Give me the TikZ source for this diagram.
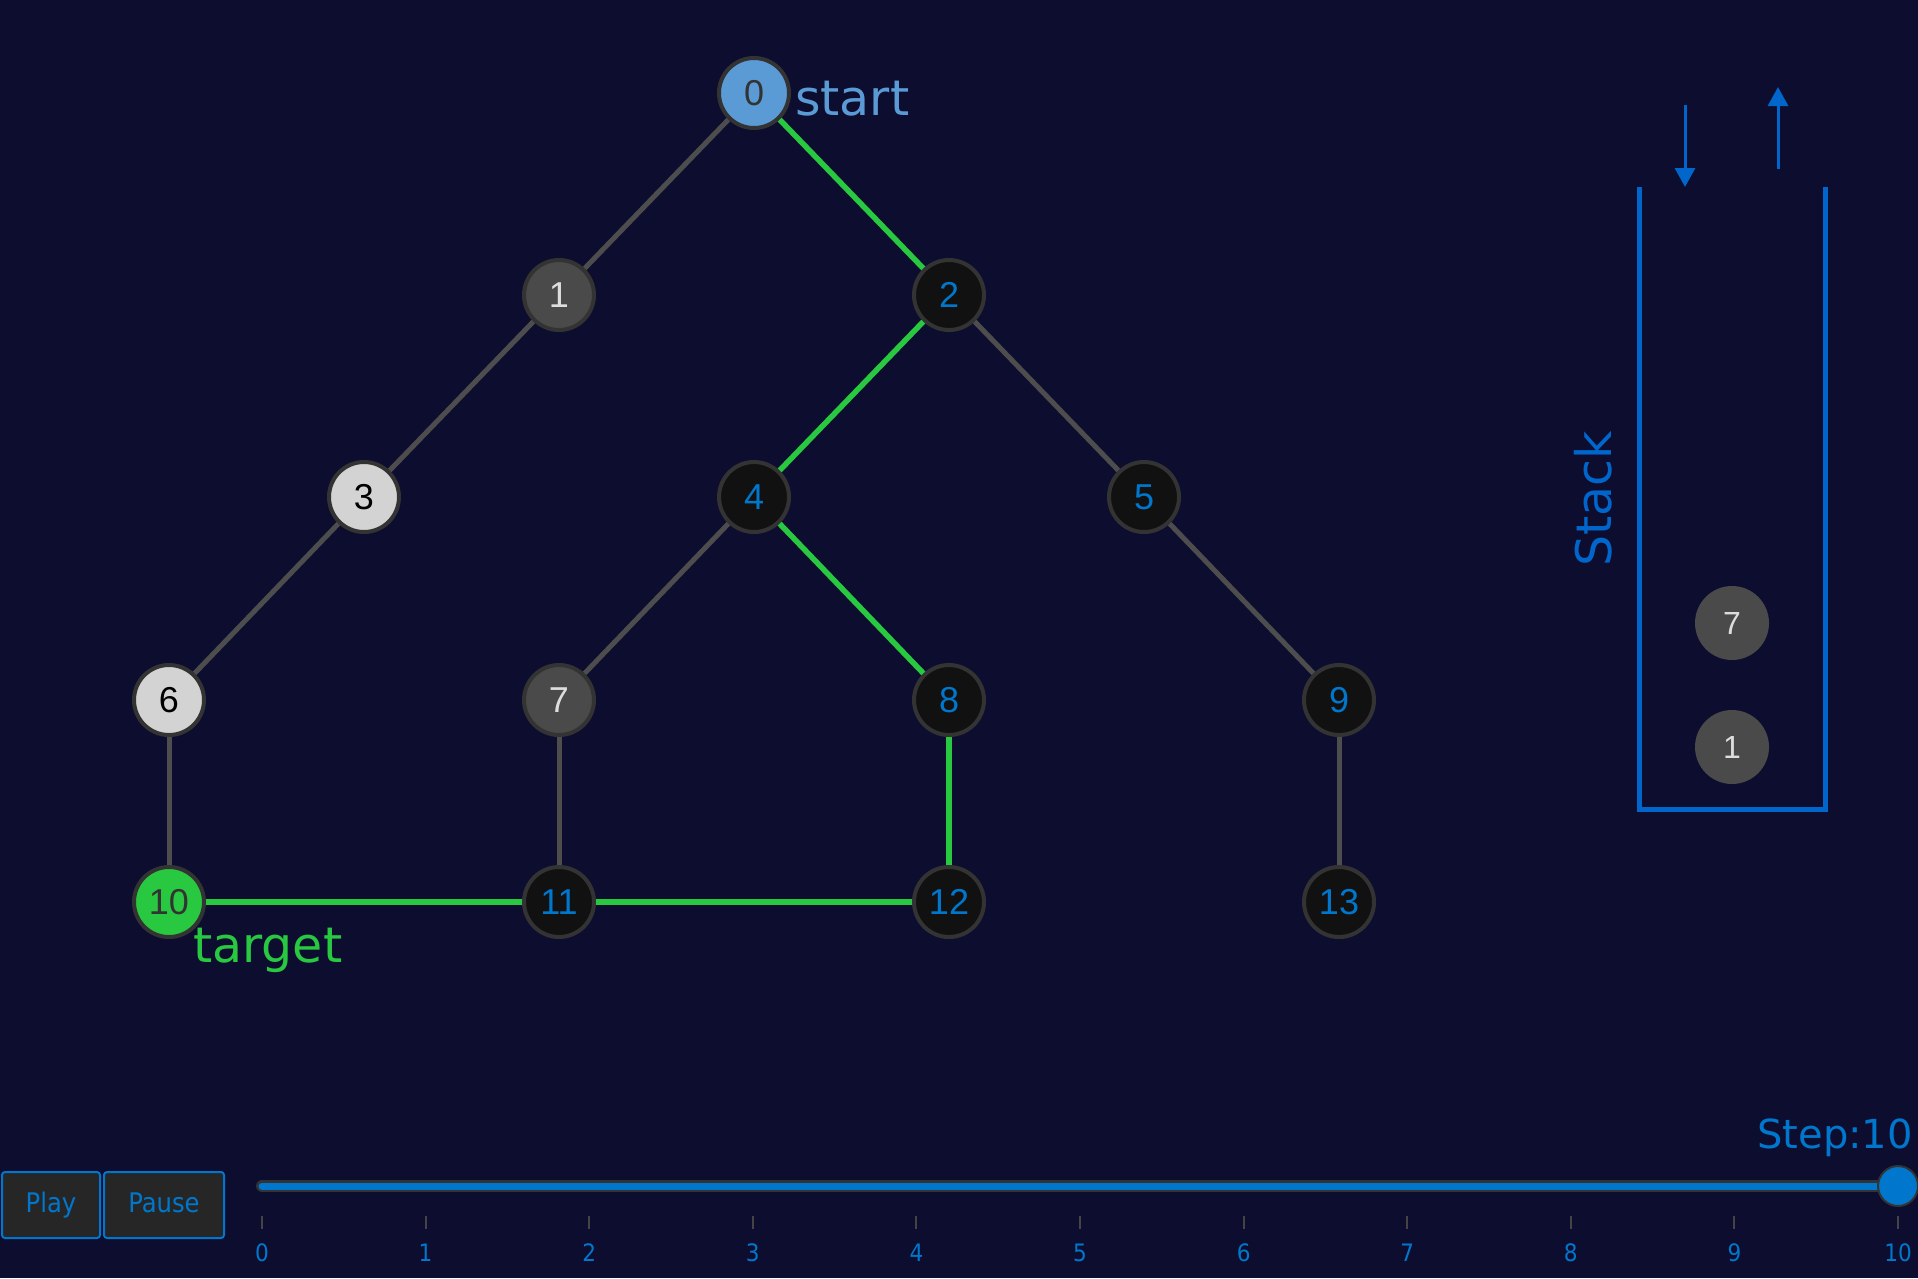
\documentclass[tikz,border=0pt]{standalone}
\usepackage{fontspec}
\setmainfont{DejaVu Sans}
\newfontfamily\arialf{Liberation Sans}
\newfontfamily\condf{DejaVu Sans Condensed}
\usetikzlibrary{arrows.meta}
\definecolor{bg}{HTML}{0D0D2F}
\definecolor{nstroke}{HTML}{333333}
\definecolor{darkfill}{HTML}{111111}
\definecolor{bluetxt}{HTML}{0077CC}
\definecolor{grayfill}{HTML}{4A4A4A}
\definecolor{lightfill}{HTML}{D3D3D3}
\definecolor{lightgray}{HTML}{DDDDDD}
\definecolor{grn}{HTML}{28C840}
\definecolor{startblue}{HTML}{5B9BD5}
\definecolor{stackblue}{HTML}{0066CC}
\definecolor{btnfill}{HTML}{262626}
\definecolor{edgegray}{HTML}{4D4D4D}
\definecolor{tickgray}{HTML}{444444}
\tikzset{
  vtx/.style={circle, draw=nstroke, line width=4pt, minimum size=70pt, inner sep=0pt,
    font=\arialf\fontsize{36}{42}\selectfont},
  vdark/.style={vtx, fill=darkfill, text=bluetxt},
  vgray/.style={vtx, fill=grayfill, text=lightgray},
  vlight/.style={vtx, fill=lightfill, text=black},
  vstart/.style={vtx, fill=startblue, text=nstroke},
  vgoal/.style={vtx, fill=grn, text=nstroke},
  gedge/.style={draw=edgegray, line width=5pt},
  pedge/.style={draw=grn, line width=5.5pt},
  stackitem/.style={circle, fill=grayfill, minimum size=74pt, inner sep=0pt, text=lightgray,
    font=\arialf\fontsize{32}{38}\selectfont},
  bigtxt/.style={inner sep=0pt, font=\fontsize{49}{58}\selectfont},
  btn/.style={draw=bluetxt, fill=btnfill, line width=2pt, rounded corners=3pt, inner sep=0pt,
    minimum height=66pt, text height=19pt, text depth=5pt, text=bluetxt, font=\condf\fontsize{27}{32}\selectfont},
  ticklbl/.style={inner sep=0pt, text=bluetxt, font=\condf\fontsize{24}{28}\selectfont},
  tickmark/.style={draw=tickgray, line width=2pt},
  wall/.style={draw=stackblue, line width=5pt, miter limit=10},
  sarrow/.style={draw=stackblue, line width=3pt, -{Triangle[width=20pt,length=19pt]}},
}
\begin{document}
\begin{tikzpicture}[x=1pt,y=-1pt]
\fill[bg] (0,0) rectangle (1918,1278);
\useasboundingbox (0,0) rectangle (1918,1278);

% vertices
\node[vstart] (n0) at (754,93) {0};
\node[vgray]  (n1) at (559,295) {1};
\node[vdark]  (n2) at (949,295) {2};
\node[vlight] (n3) at (364,497) {3};
\node[vdark]  (n4) at (754,497) {4};
\node[vdark]  (n5) at (1144,497) {5};
\node[vlight] (n6) at (169,700) {6};
\node[vgray]  (n7) at (559,700) {7};
\node[vdark]  (n8) at (949,700) {8};
\node[vdark]  (n9) at (1339,700) {9};
\node[vgoal]  (n10) at (169,902) {10};
\node[vdark]  (n11) at (559,902) {11};
\node[vdark]  (n12) at (949,902) {12};
\node[vdark]  (n13) at (1339,902) {13};

% edges
\path[gedge] (n0) -- (n1);
\path[gedge] (n1) -- (n3);
\path[gedge] (n3) -- (n6);
\path[gedge] (n6) -- (n10);
\path[gedge] (n4) -- (n7);
\path[gedge] (n7) -- (n11);
\path[gedge] (n2) -- (n5);
\path[gedge] (n5) -- (n9);
\path[gedge] (n9) -- (n13);
\path[pedge] (n0) -- (n2);
\path[pedge] (n2) -- (n4);
\path[pedge] (n4) -- (n8);
\path[pedge] (n8) -- (n12);
\path[pedge] (n12) -- (n11);
\path[pedge] (n11) -- (n10);

% labels
\node[bigtxt, text=startblue, anchor=base west] (lstart) at (795,115) {start};
\node[bigtxt, text=grn, anchor=base west] (ltarget) at (193,962) {target};

% stack
\coordinate (wtl) at (1639,187);
\coordinate (wbl) at (1639,809);
\coordinate (wbr) at (1825,809);
\coordinate (wtr) at (1825,187);
\draw[wall] (wtl) -- (wbl) -- (wbr) -- (wtr);
\coordinate (din0) at (1685,105);
\coordinate (din1) at (1685,187);
\coordinate (dout0) at (1778,169);
\coordinate (dout1) at (1778,87);
\draw[sarrow] (din0) -- (din1);
\draw[sarrow] (dout0) -- (dout1);
\node[bigtxt, text=stackblue, rotate=90] (lstack) at (1593,499) {Stack};
\node[stackitem] (s7) at (1732,623) {7};
\node[stackitem] (s1) at (1732,747) {1};

% controls
\node[btn, minimum width=98pt] (play) at (51,1205) {Play};
\node[btn, minimum width=120pt] (pause) at (164,1205) {Pause};

% slider
\coordinate (tr0) at (262,1186);
\coordinate (tr1) at (1898,1186);
\draw[draw=nstroke, line width=12pt, line cap=round] (tr0) -- (tr1);
\draw[draw=bluetxt, line width=7pt, line cap=round] (tr0) -- (tr1);
\node[circle, fill=bluetxt, draw=nstroke, line width=2pt, minimum size=40pt, inner sep=0pt] (knob) at (tr1) {};
\node[inner sep=0pt, text=bluetxt, anchor=base east, font=\fontsize{40}{48}\selectfont] (lstep) at (1913,1148) {Step:10};

\foreach \i in {0,...,10}{
  \coordinate (tk\i a) at ({262+163.6*\i},1216);
  \coordinate (tk\i b) at ({262+163.6*\i},1229);
  \draw[tickmark] (tk\i a) -- (tk\i b);
  \node[ticklbl] (tl\i) at ({262+163.6*\i},1253) {\i};
}
\end{tikzpicture}
\end{document}
